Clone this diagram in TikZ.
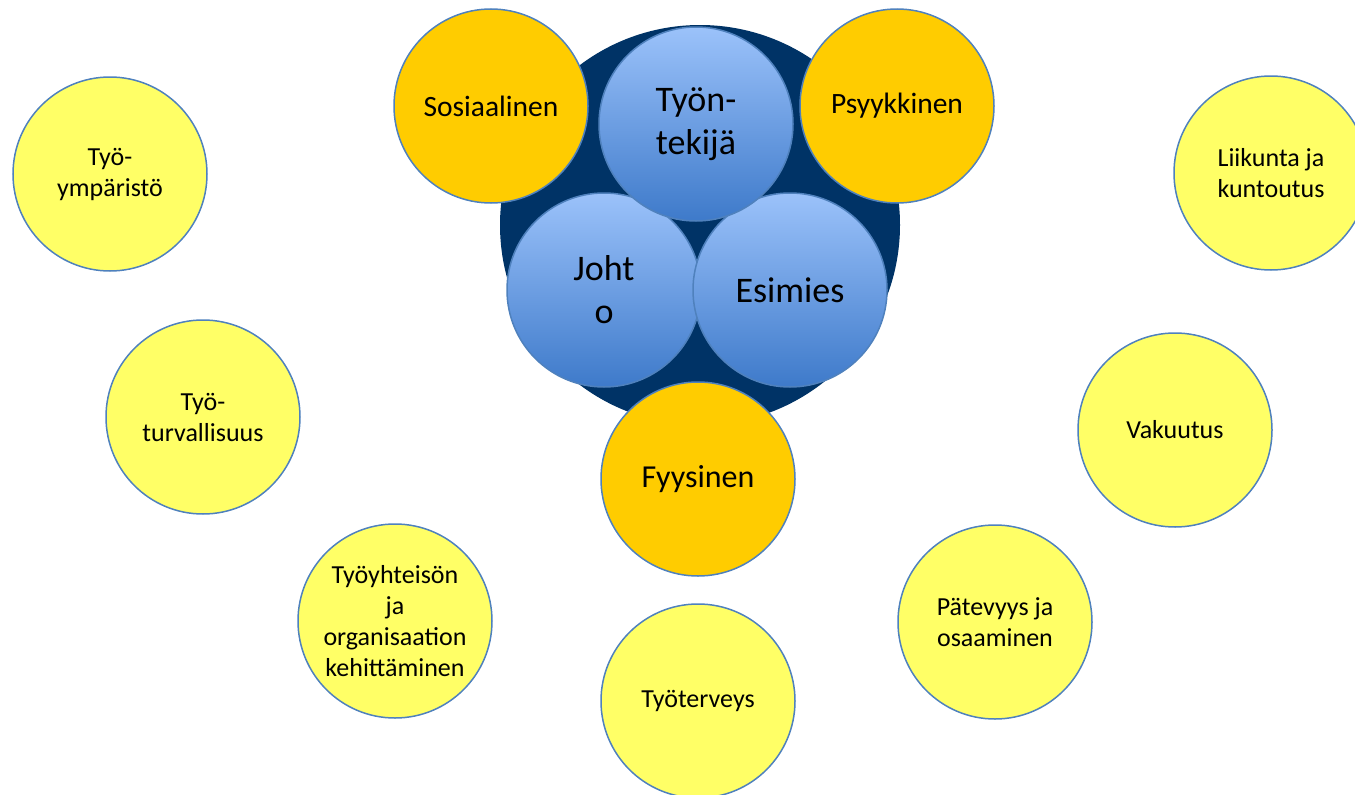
\documentclass[tikz,border=0pt]{standalone}
\usepackage{fontspec}
\setmainfont{Carlito}
\usetikzlibrary{shapes.geometric}
\definecolor{tummasin}{RGB}{0,51,102}
\definecolor{reunasin}{RGB}{79,129,189}
\definecolor{oranssi}{RGB}{255,204,0}
\definecolor{keltainen}{RGB}{255,255,102}
\definecolor{vaaleasin}{RGB}{155,194,250}
\definecolor{syvasin}{RGB}{62,122,202}
\tikzset{
	pallo/.style={
		circle,
		draw=reunasin, line width=1.5pt,
		inner sep=0pt,
		minimum size=194pt,
		align=center},
	keskus/.style={
		pallo,
		top color=vaaleasin,
		bottom color=syvasin,
		font=\fontsize{36}{43}\selectfont},
	ulottuvuus/.style={
		pallo,
		fill=oranssi,
		font=\fontsize{29.5}{35}\selectfont},
	tekija/.style={
		pallo,
		fill=keltainen,
		font=\fontsize{26}{31}\selectfont},
}

\begin{document}
\begin{tikzpicture}[x=1pt, y=-1pt]
\useasboundingbox (0,0) rectangle (1355,795);
% keskusta
\fill[tummasin] (700,225) circle (200);
\node[keskus] (johto) at (604,290) {Joht\\o};
\node[keskus] (esimies) at (790,290) {Esimies};
\node[keskus] (tyontekija) at (696,124) {Työn-\\tekijä};
% ulottuvuudet
\node[ulottuvuus] (sosiaalinen) at (491,106) {Sosiaalinen};
\node[ulottuvuus] (psyykkinen) at (897,106) {Psyykkinen};
\node[ulottuvuus, font=\fontsize{32}{38}\selectfont] (fyysinen) at (698,479) {Fyysinen};
% tekijat
\node[tekija] (ymparisto) at (110,174) {Työ-\\ympäristö};
\node[tekija] (turvallisuus) at (203,417) {Työ-\\turvallisuus};
\node[tekija] (kehittaminen) at (395,621) {Työyhteisön\\ja\\organisaation\\kehittäminen};
\node[tekija] (terveys) at (698,701) {Työterveys};
\node[tekija] (osaaminen) at (995,622) {Pätevyys ja\\osaaminen};
\node[tekija] (vakuutus) at (1175,430) {Vakuutus};
\node[tekija] (liikunta) at (1271,173) {Liikunta ja\\kuntoutus};
\end{tikzpicture}
\end{document}
